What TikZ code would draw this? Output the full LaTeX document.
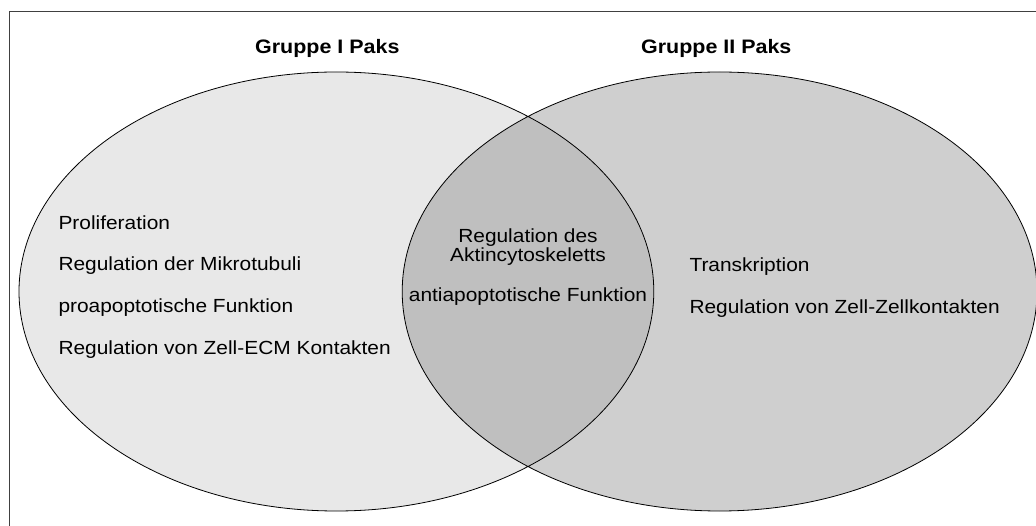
\documentclass[tikz,border=0pt]{standalone}
\usepackage{fontspec}
\setmainfont{Liberation Sans}[FakeStretch=1.1]
\usepackage{tikz}
\definecolor{setone}{gray}{.91}
\definecolor{settwo}{gray}{.81}
\definecolor{setboth}{gray}{.75}
\definecolor{framegray}{gray}{.25}
\newcommand{\rowgap}{41.7}
\newcommand{\setrx}{317.4}
\newcommand{\setry}{219.5}
\tikzset{
    common/.style={inner sep=0pt, font=\fontsize{19}{20.5}\selectfont},
    item/.style={common, anchor=base west},
    title/.style={item, font=\fontsize{19.5}{21}\selectfont\bfseries},
    shared/.style={common, anchor=base},
    outline/.style={draw=black, line width=0.8pt},
    venn/.style={x radius=\setrx, y radius=\setry}
}

\begin{document}
\begin{tikzpicture}[x=1pt, y=-1pt]
    \clip (0,0) rectangle (1036,526);
    \coordinate (left-centre) at (336.4,291.5);
    \coordinate (right-centre) at (719.6,291.5);

    % frame, only its top and left edges fall inside the page
    \draw[framegray, line width=1.4pt] (9.5,11.5) rectangle (1080,580);

    \fill[setone] (left-centre) ellipse [venn];
    \fill[settwo] (right-centre) ellipse [venn];
    \begin{scope}
        \clip (left-centre) ellipse [venn];
        \fill[setboth] (right-centre) ellipse [venn];
    \end{scope}
    \draw[outline] (left-centre) ellipse [venn] (right-centre) ellipse [venn];

    \path
        (255,53.3) node[title] (group-one) {Gruppe I Paks}
        (641,53.3) node[title] (group-two) {Gruppe II Paks};

    \path
        (58.3,229.3) node[item] (one-prolif) {Proliferation}
        ++(0,\rowgap) node[item] (one-tubuli) {Regulation der Mikrotubuli}
        ++(0,\rowgap) node[item] (one-proapo) {proapoptotische Funktion}
        ++(0,\rowgap) node[item] (one-ecm) {Regulation von Zell-ECM Kontakten};

    \path
        (528,242.7) node[shared] (both-actin) {Regulation des}
        ++(0,19) node[shared] (both-actin2) {Aktincytoskeletts}
        ++(0,40) node[shared] (both-antiapo) {antiapoptotische Funktion};

    \path
        (689.3,271.7) node[item] (two-transkr) {Transkription}
        ++(0,\rowgap) node[item] (two-contacts) {Regulation von Zell-Zellkontakten};
\end{tikzpicture}
\end{document}
